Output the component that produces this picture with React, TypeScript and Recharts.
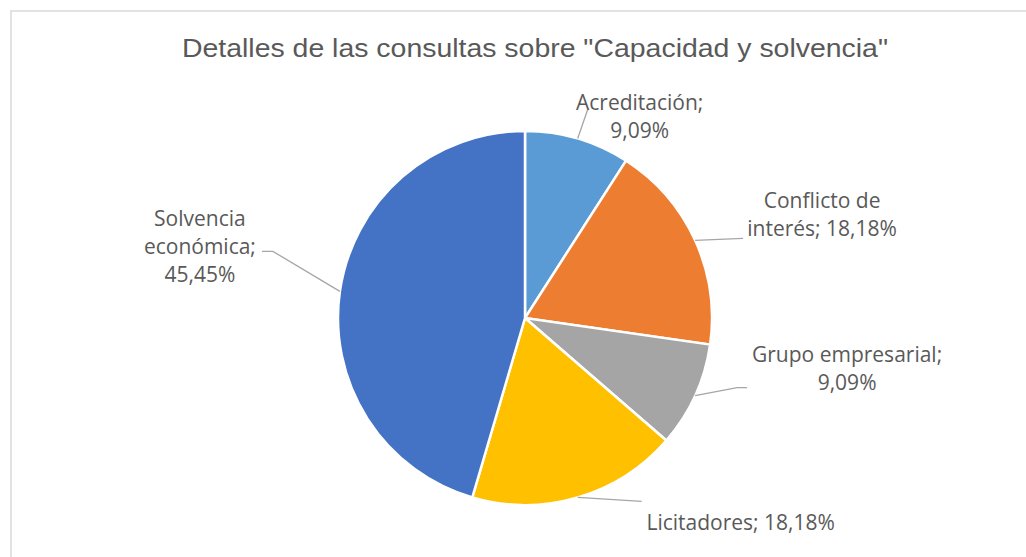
import { Cell, Pie, PieChart } from "recharts";

const categories = [
  "Acreditación",
  "Conflicto de interés",
  "Grupo empresarial",
  "Licitadores",
  "Solvencia económica",
];
const values = [1, 2, 1, 2, 5];
const colors = ["#5B9BD5", "#ED7D31", "#A5A5A5", "#FFC000", "#4472C4"];
const title = 'Detalles de las consultas sobre "Capacidad y solvencia"';

// label layout: words per line, leader line points (relative to slice edge), text offset from line end
const wraps = [[1, 1], [2, 2], [2, 1], [2], [1, 1, 1]];
const leaderPts = [
  [[10, -29]],
  [[48, -2]],
  [[42, -8], [52, -8]],
  [[64, 4]],
  [[-67, -40], [-78, -40]],
];
const textOffsets = [
  [52, -8],
  [79, -38],
  [100, -34],
  [99, 21],
  [-62, -33],
];

const data = categories.map((name, i) => ({ name, value: values[i] }));
const RAD = Math.PI / 180;

function renderLabel(props: any) {
  const { cx, cy, midAngle, outerRadius, index, percent } = props;
  const sx = cx + outerRadius * Math.cos(-midAngle * RAD);
  const sy = cy + outerRadius * Math.sin(-midAngle * RAD);
  const pts = leaderPts[index].map(([dx, dy]) => [sx + dx, sy + dy]);
  const [ex, ey] = pts[pts.length - 1];
  const pct = (percent * 100).toFixed(2).replace(".", ",") + "%";
  const words = `${categories[index]}; ${pct}`.split(" ");
  const lines: string[] = [];
  let k = 0;
  for (const n of wraps[index]) {
    lines.push(words.slice(k, k + n).join(" "));
    k += n;
  }
  const tx = ex + textOffsets[index][0];
  const ty = ey + textOffsets[index][1];
  const d = `M${sx},${sy} ` + pts.map(([x, y]) => `L${x},${y}`).join(" ");
  return (
    <g key={`lbl-${index}`}>
      <path d={d} stroke="#A6A6A6" strokeWidth={1.3} fill="none" />
      {lines.map((ln, j) => (
        <text
          key={j}
          x={tx}
          y={ty + j * 28}
          textAnchor="middle"
          dominantBaseline="central"
          fill="#595959"
          fontSize={21}
          fontFamily="'Open Sans', 'Noto Sans', sans-serif"
        >
          {ln}
        </text>
      ))}
    </g>
  );
}

export default function App() {
  return (
    <div
      style={{
        position: "fixed",
        left: 0,
        top: 0,
        width: 1026,
        height: 557,
        background: "#fff",
        overflow: "hidden",
      }}
    >
      <svg
        width={1026}
        height={557}
        style={{ position: "absolute", left: 0, top: 0 }}
      >
        <path d="M11,557 L11,11 L1026,11" stroke="#D9D9D9" strokeWidth={1.5} fill="none" />
        <text
          x={535}
          y={57}
          textAnchor="middle"
          fill="#595959"
          fontSize={26}
          fontFamily="'Liberation Sans', Arial, sans-serif"
          textLength={706}
          lengthAdjust="spacingAndGlyphs"
        >
          {title}
        </text>
      </svg>
      <div style={{ position: "absolute", left: 0, top: 0 }}>
        <PieChart width={1026} height={557} margin={{ top: 0, right: 0, bottom: 0, left: 0 }}>
          <Pie
            data={data}
            dataKey="value"
            nameKey="name"
            cx={525}
            cy={318}
            outerRadius={187}
            startAngle={90}
            endAngle={-270}
            stroke="#FFFFFF"
            strokeWidth={2.5}
            label={renderLabel}
            labelLine={false}
            isAnimationActive={false}
          >
            {data.map((d, i) => (
              <Cell key={d.name} fill={colors[i]} />
            ))}
          </Pie>
        </PieChart>
      </div>
    </div>
  );
}
